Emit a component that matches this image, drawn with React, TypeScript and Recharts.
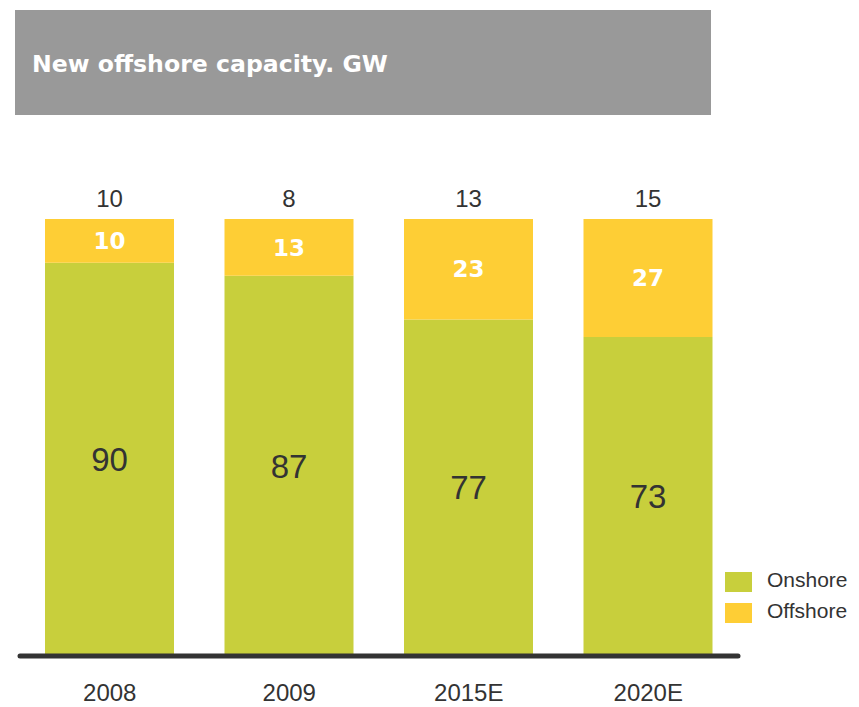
import { BarChart, Bar, XAxis, YAxis, LabelList } from "recharts";

const CATEGORIES = ["2008", "2009", "2015E", "2020E"];
const ONSHORE = [90, 87, 77, 73];
const OFFSHORE = [10, 13, 23, 27];
const TOTALS = [10, 8, 13, 15];

const GREEN = "#C8CF3C";
const YELLOW = "#FECE35";
const DARK = "#333333";
const FONT = "'Liberation Sans', Arial, sans-serif";
const BOLD_FONT = "'DejaVu Sans', Verdana, sans-serif";

const SERIES = [
  { key: "onshore", name: "Onshore", color: GREEN },
  { key: "offshore", name: "Offshore", color: YELLOW },
];

const data = CATEGORIES.map((year, i) => ({
  year,
  onshore: ONSHORE[i],
  offshore: OFFSHORE[i],
  total: TOTALS[i],
}));

export default function App() {
  return (
    <div style={{ position: "absolute", left: 0, top: 0, width: 859, height: 707, background: "#fff", fontFamily: FONT }}>
      {/* Title banner */}
      <div style={{ position: "absolute", left: 15, top: 10, width: 696, height: 105, background: "#999999" }} />
      <div
        style={{
          position: "absolute",
          left: 32,
          top: 50,
          color: "#fff",
          fontFamily: BOLD_FONT,
          fontWeight: "bold",
          fontSize: 23.6,
          whiteSpace: "nowrap",
        }}
      >
        New offshore capacity. GW
      </div>

      <div style={{ position: "absolute", left: 0, top: 0 }}>
        <BarChart
          width={859}
          height={707}
          data={data}
          margin={{ top: 219, right: 121, left: 20, bottom: 0 }}
          barSize={129}
        >
          <YAxis hide domain={[0, 100]} />
          <XAxis
            dataKey="year"
            height={51}
            tickLine={false}
            axisLine={{ stroke: DARK, strokeWidth: 5, strokeLinecap: "round" }}
            tickMargin={22}
            tick={{ fontSize: 24, fill: DARK, fontFamily: FONT }}
          />
          <Bar dataKey="onshore" stackId="a" fill={GREEN} isAnimationActive={false}>
            <LabelList dataKey="onshore" position="center" fill={DARK} fontSize={33} fontFamily={FONT} />
          </Bar>
          <Bar dataKey="offshore" stackId="a" fill={YELLOW} isAnimationActive={false}>
            <LabelList
              dataKey="offshore"
              position="center"
              fill="#fff"
              fontSize={23}
              fontWeight="bold"
              fontFamily={BOLD_FONT}
            />
            <LabelList dataKey="total" position="top" offset={12} fill={DARK} fontSize={24} fontFamily={FONT} />
          </Bar>
        </BarChart>
      </div>

      {/* Legend */}
      {SERIES.map((s, i) => (
        <div key={s.key} style={{ position: "absolute", left: 725, top: 572 + i * 31, height: 20, display: "flex", alignItems: "center" }}>
          <span style={{ width: 27, height: 20, background: s.color, display: "inline-block" }} />
          <span style={{ marginLeft: 15, fontSize: 21, color: DARK, lineHeight: "20px", position: "relative", top: -2 }}>{s.name}</span>
        </div>
      ))}
    </div>
  );
}
